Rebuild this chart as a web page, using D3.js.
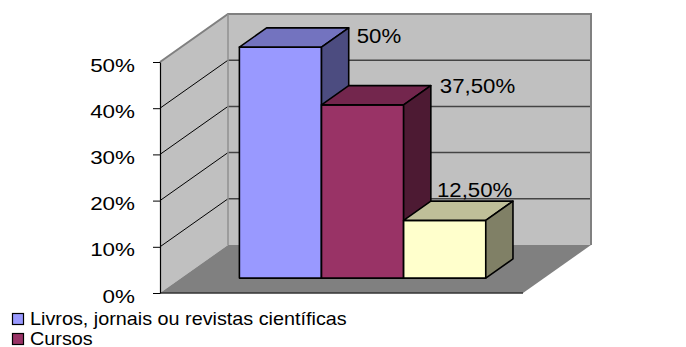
<!DOCTYPE html>
<html><head><meta charset="utf-8">
<script src="https://cdn.jsdelivr.net/npm/d3@7/dist/d3.min.js"></script>
<style>body{margin:0;background:#fff}svg{display:block}text{font-family:Arial,"Liberation Sans",sans-serif;fill:#000}</style>
</head><body><svg id="c" width="686" height="347"></svg>
<script>
// ---- data ----
const series = ["Livros, jornais ou revistas científicas", "Cursos", "Outros"];
const values = [0.50, 0.375, 0.125];
const valueLabels = ["50%", "37,50%", "12,50%"];
const yTicks = [0, 0.1, 0.2, 0.3, 0.4, 0.5];
const legendShown = ["Livros, jornais ou revistas científicas", "Cursos"];

// ---- layout / style ----
const colors = [
  {front:"#9999FF", top:"#7373BF", side:"#4C4C80"},
  {front:"#993366", top:"#73264D", side:"#4D1A33"},
  {front:"#FFFFCC", top:"#BFBF99", side:"#808066"}
];
const origin = {x:160, y:293};
const depth = {dx:68, dy:-48};
const floorW = 363;
const zFront = 0.31, zBack = 0.71;
const labelNudge = [[8,15],[9,7],[-76,-4]];

const svg = d3.select("#c");
const y = d3.scaleLinear().domain([0,0.5]).range([0,231]);
const x = d3.scaleBand().domain(series).range([0,floorW]).paddingInner(0).paddingOuter(0.71);

function P(px, v, z){ return [origin.x + px + z*depth.dx, origin.y - y(v) + z*depth.dy]; }
function poly(pts){ return "M" + pts.map(p=>p.join(",")).join("L") + "Z"; }

// walls
svg.append("path").attr("d", poly([P(0,0,0),P(0,0,1),P(0,0.5,1),P(0,0.5,0)])).attr("fill","#C0C0C0");
svg.append("path").attr("d", poly([P(0,0,1),P(floorW,0,1),P(floorW,0.5,1),P(0,0.5,1)])).attr("fill","#C0C0C0");
svg.append("path").attr("d", poly([P(0,0,0),P(floorW,0,0),P(floorW,0,1),P(0,0,1)])).attr("fill","#808080");

// gridlines
yTicks.filter(t=>t>0 && t<0.5).forEach(t=>{
  const a=P(0,t,0), b=P(0,t,1), c=P(floorW,t,1);
  svg.append("line").attr("x1",a[0]).attr("y1",a[1]).attr("x2",b[0]).attr("y2",b[1]).attr("stroke","#000").attr("stroke-width",1);
  svg.append("line").attr("x1",b[0]).attr("y1",b[1]).attr("x2",c[0]).attr("y2",c[1]).attr("stroke","#444").attr("stroke-width",1.5);
});
// wall borders
svg.append("path").attr("d","M"+P(0,0.5,0).join(",")+"L"+P(0,0.5,1).join(",")+"L"+P(floorW,0.5,1).join(",")+"L"+P(floorW,0,1).join(","))
  .attr("fill","none").attr("stroke","#808080").attr("stroke-width",2);
svg.append("line").attr("x1",P(0,0,1)[0]).attr("y1",P(0,0,1)[1]).attr("x2",P(0,0.5,1)[0]).attr("y2",P(0,0.5,1)[1]).attr("stroke","#909090").attr("stroke-width",1.5);
svg.append("line").attr("x1",P(0,0,0)[0]).attr("y1",P(0,0,0)[1]).attr("x2",P(floorW,0,0)[0]).attr("y2",P(floorW,0,0)[1]).attr("stroke","#333").attr("stroke-width",1.5);

// axis
const yAx = d3.scaleLinear().domain([0,0.5]).range([origin.y, origin.y - y(0.5)]);
const ax = svg.append("g").attr("transform",`translate(${origin.x},0)`)
  .call(d3.axisLeft(yAx).tickValues(yTicks).tickFormat(d3.format(".0%")).tickSize(7).tickSizeOuter(0));
ax.select(".domain").attr("stroke","#000").attr("stroke-width",1.2);
ax.selectAll(".tick line").attr("stroke","#000");
ax.selectAll(".tick text").attr("x",null).attr("dy","0.48em").attr("font-size",19)
  .attr("text-anchor","end").attr("transform","translate(-25,0) scale(1.18,1)")
  .style("font-family","Arial, 'Liberation Sans', sans-serif");

// bars
series.forEach((s,i)=>{
  const x0 = x(s), x1 = x(s)+x.bandwidth(), v = values[i], c = colors[i];
  const g = svg.append("g").attr("stroke","#000").attr("stroke-width",1.6).attr("stroke-linejoin","round");
  g.append("path").attr("d",poly([P(x0,0,zFront),P(x1,0,zFront),P(x1,v,zFront),P(x0,v,zFront)])).attr("fill",c.front);
  g.append("path").attr("d",poly([P(x0,v,zFront),P(x1,v,zFront),P(x1,v,zBack),P(x0,v,zBack)])).attr("fill",c.top);
  g.append("path").attr("d",poly([P(x1,0,zFront),P(x1,0,zBack),P(x1,v,zBack),P(x1,v,zFront)])).attr("fill",c.side);
});
// labels
series.forEach((s,i)=>{
  const corner = P(x(s)+x.bandwidth(), values[i], zBack);
  svg.append("text").attr("transform",`translate(${corner[0]+labelNudge[i][0]},${corner[1]+labelNudge[i][1]}) scale(1.14,1)`)
    .attr("font-size",19.5).text(valueLabels[i]);
});

// legend
legendShown.forEach((name,i)=>{
  const ly = 325 + i*20;
  svg.append("rect").attr("x",12.5).attr("y",ly-11.5).attr("width",11).attr("height",11)
    .attr("fill",colors[series.indexOf(name)].front).attr("stroke","#000").attr("stroke-width",1.2);
  svg.append("text").attr("transform",`translate(30,${ly}) scale(1.1,1)`).attr("font-size",18).text(name);
});
</script></body></html>
